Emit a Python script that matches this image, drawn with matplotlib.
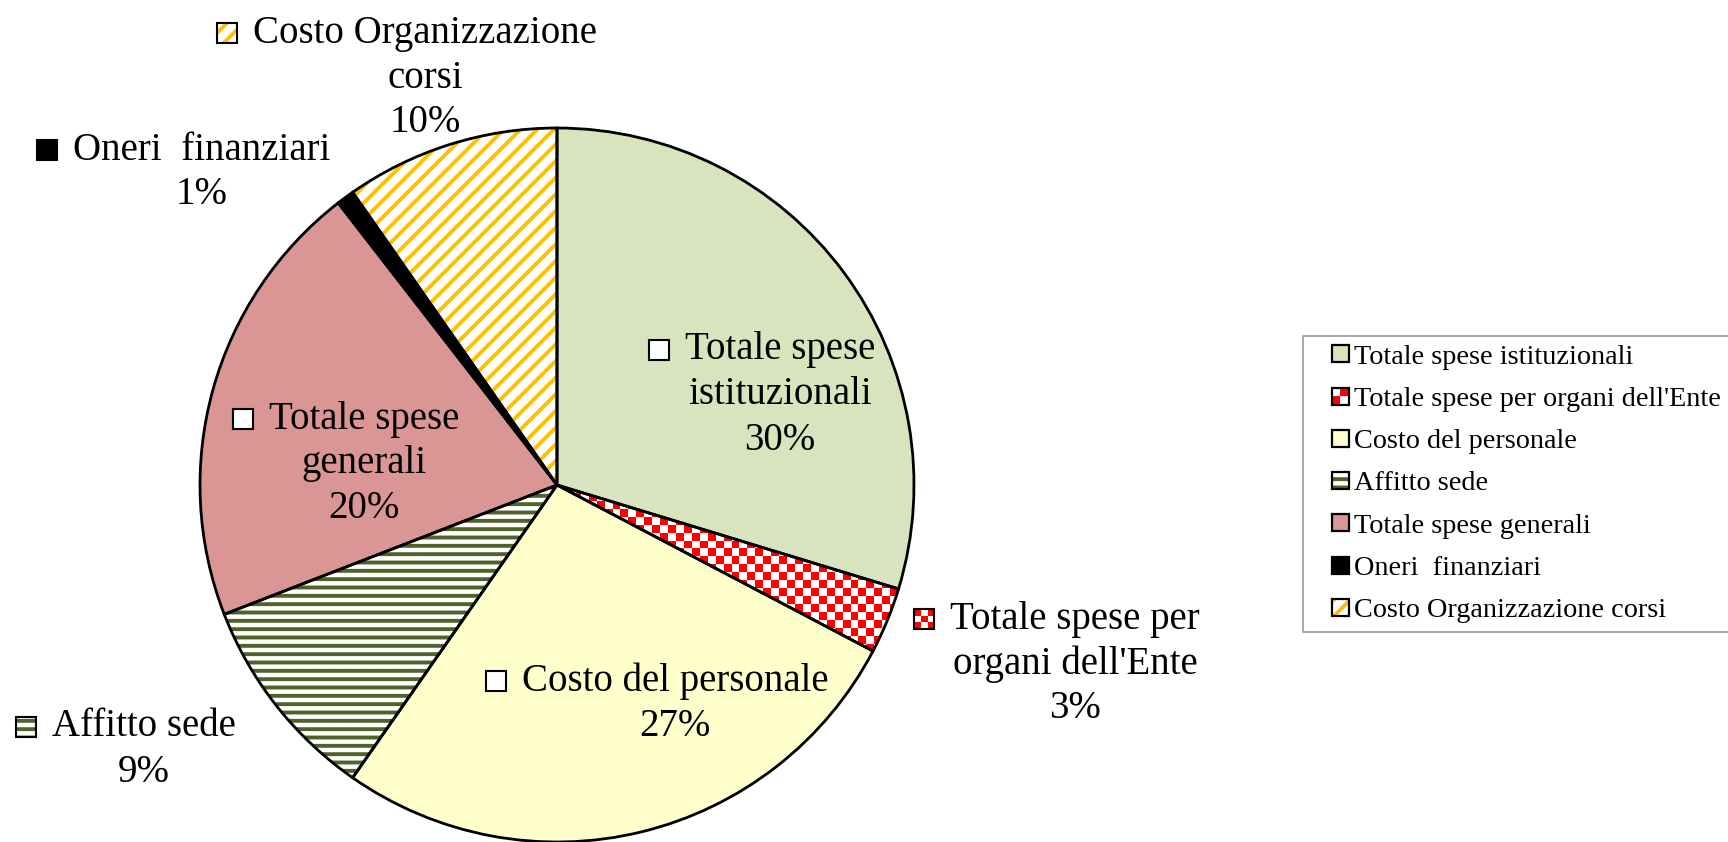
import numpy as np
import matplotlib.pyplot as plt
from matplotlib.patches import Rectangle, Wedge, Patch
from matplotlib.colors import ListedColormap
from matplotlib.legend_handler import HandlerBase

# dati
categorie = ["Totale spese istituzionali", "Totale spese per organi dell'Ente", "Costo del personale",
             "Affitto sede", "Totale spese generali", "Oneri  finanziari", "Costo Organizzazione corsi"]
quote = [29.7, 3.0, 27.0, 9.4, 20.4, 0.8, 9.7]
etichette = ["Totale spese\nistituzionali", "Totale spese per\norgani dell'Ente", "Costo del personale",
             "Affitto sede", "Totale spese\ngenerali", "Oneri  finanziari", "Costo Organizzazione\ncorsi"]

# stile
riempimenti = ['#D7E4BD', 'white', '#FFFFCC', 'white', '#D99694', 'black', 'white']
tratteggi = [None, None, None, '--', None, None, '//']
colori_tratteggio = [None, None, None, '#4F6228', None, None, '#FFC000']
interna = [True, False, True, False, True, False, False]
# posizione etichette (pixel: centro testo, prima riga)
pos_etichette = [(780, 350), (1075, 619), (675, 681), (144, 727), (364, 419), (202, 150), (425, 33)]
passo_riga = 45

plt.rcParams['font.family'] = 'Liberation Serif'
plt.rcParams['hatch.linewidth'] = 2.8

W, H = 1728, 842
cx, cy, R = 557, 485, 357


def px(x, y):
    return (x - cx) / R, (cy - y) / R


fig = plt.figure(figsize=(W / 100, H / 100), dpi=100)
ax = fig.add_axes([0, 0, 1, 1])

wedges, _ = ax.pie(quote, startangle=90, counterclock=False, colors=riempimenti,
                   wedgeprops=dict(linewidth=0))
for w, h, hc in zip(wedges, tratteggi, colori_tratteggio):
    if h:
        w.set_hatch(h)
        w.set_edgecolor(hc)

# scacchiera per "organi dell'Ente"
n = 90
scacchi = np.indices((n, n)).sum(axis=0) % 2
im = ax.imshow(scacchi, cmap=ListedColormap(['white', '#FF0000']), extent=(-1, 1, -1, 1),
               interpolation='nearest', zorder=2)
im.set_clip_path(wedges[1])

for w in wedges:
    ax.add_patch(Wedge(w.center, w.r, w.theta1, w.theta2, fill=False, edgecolor='black',
                       linewidth=2.0, zorder=3))

ax.set_xlim(px(0, 0)[0], px(W, 0)[0])
ax.set_ylim(px(0, H)[1], px(0, 0)[1])
ax.set_aspect('auto')
ax.axis('off')


def chiave(x0, y0, s, i, vuota, trans, lw=1.5, celle=3):
    # piccolo quadrato di legenda
    arts = []
    if vuota:
        arts.append(Rectangle((x0, y0), s, s, facecolor='white', edgecolor='none', transform=trans))
    elif i == 1:
        arts.append(Rectangle((x0, y0), s, s, facecolor='white', edgecolor='none', transform=trans))
        c = s / celle
        for a in range(celle):
            for b in range(celle):
                if (a + b) % 2 == 0:
                    arts.append(Rectangle((x0 + a * c, y0 + b * c), c, c, facecolor='#FF0000',
                                          edgecolor='none', transform=trans))
    elif tratteggi[i]:
        arts.append(Rectangle((x0, y0), s, s, facecolor='white', edgecolor=colori_tratteggio[i],
                              hatch=tratteggi[i], linewidth=0, transform=trans))
    else:
        arts.append(Rectangle((x0, y0), s, s, facecolor=riempimenti[i], edgecolor='none', transform=trans))
    arts.append(Rectangle((x0, y0), s, s, fill=False, edgecolor='black', linewidth=lw, transform=trans))
    return arts


# etichette
prime = []
for i, q in enumerate(quote):
    righe = etichette[i].split('\n') + [f"{round(q)}%"]
    x0, y0 = pos_etichette[i]
    for k, r in enumerate(righe):
        t = ax.text(*px(x0, y0 + k * passo_riga), r, ha='center', va='center', fontsize=28, zorder=4)
        if k == 0:
            prime.append(t)

fig.canvas.draw()
rend = fig.canvas.get_renderer()
inv = ax.transData.inverted()
s = 20 / R
for i, t in enumerate(prime):
    bb = t.get_window_extent(rend)
    xl, yc = inv.transform((bb.x0 - 16, (bb.y0 + bb.y1) / 2))
    for a in chiave(xl - s, yc - s / 2, s, i, interna[i], ax.transData, lw=1.5):
        a.set_zorder(4)
        ax.add_patch(a)


class ChiaveHandler(HandlerBase):
    def create_artists(self, legend, orig_handle, xdescent, ydescent, width, height, fontsize, trans):
        i = int(orig_handle.get_gid())
        s = 17 * 72 / 100
        x0 = -xdescent + width - s
        y0 = -ydescent + (height - s) / 2
        return chiave(x0, y0, s, i, False, trans, lw=1.6, celle=2)


maniglie = [Patch(gid=str(i)) for i in range(len(categorie))]
leg = fig.legend(maniglie, categorie, loc='upper left', bbox_to_anchor=(1303 / W, 1 - 336 / H),
                 handler_map={Patch: ChiaveHandler()}, frameon=True, fancybox=False, edgecolor='#808080',
                 fontsize=20.3, handlelength=1.33, handleheight=0.65, handletextpad=0.18, labelspacing=0.6,
                 borderpad=0.3, borderaxespad=0)
leg.get_frame().set_linewidth(1.2)

fig.savefig('out.png', dpi=100)
